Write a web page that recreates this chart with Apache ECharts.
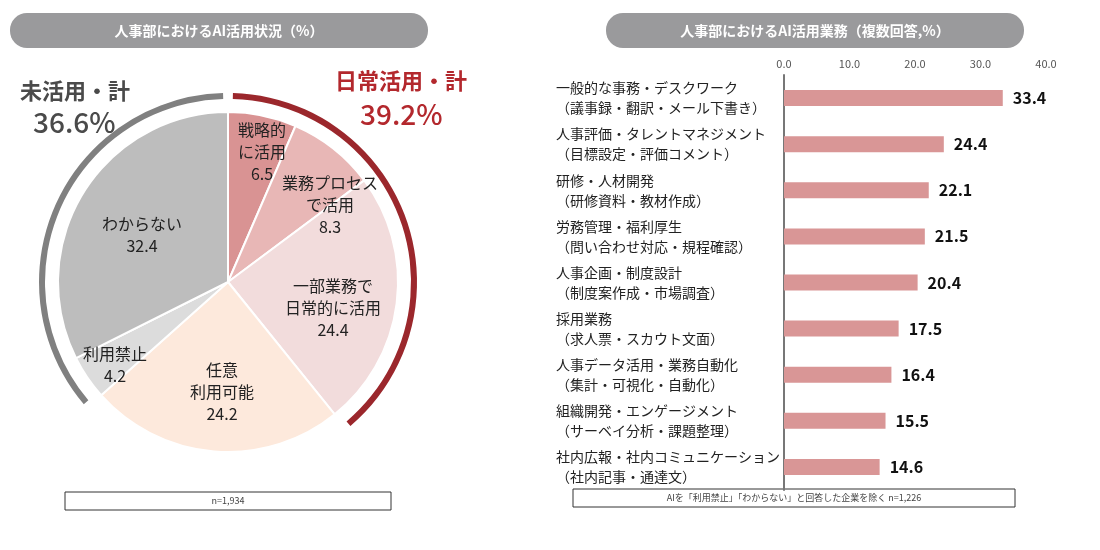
<!DOCTYPE html>
<html><head><meta charset="utf-8">
<script src="https://cdn.jsdelivr.net/npm/echarts@6/dist/echarts.min.js"></script>
<style>body{margin:0;background:#fff}#c{width:1100px;height:550px}</style>
</head><body><div id="c"></div>
<script>
var pieNames = ['戦略的\nに活用', '業務プロセス\nで活用', '一部業務で\n日常的に活用', '任意\n利用可能', '利用禁止', 'わからない'];
var pieValues = [6.5, 8.3, 24.4, 24.2, 4.2, 32.4];
var pieColors = ['#d99393', '#e8b7b6', '#f2dcdc', '#fde9dc', '#dcdcdc', '#bdbdbd'];
var ringValues = [39.2, 24.2, 36.6];
var barNames = ['一般的な事務・デスクワーク', '人事評価・タレントマネジメント', '研修・人材開発', '労務管理・福利厚生', '人事企画・制度設計', '採用業務', '人事データ活用・業務自動化', '組織開発・エンゲージメント', '社内広報・社内コミュニケーション'];
var barSubs = ['（議事録・翻訳・メール下書き）', '（目標設定・評価コメント）', '（研修資料・教材作成）', '（問い合わせ対応・規程確認）', '（制度案作成・市場調査）', '（求人票・スカウト文面）', '（集計・可視化・自動化）', '（サーベイ分析・課題整理）', '（社内記事・通達文）'];
var barValues = [33.4, 24.4, 22.1, 21.5, 20.4, 17.5, 16.4, 15.5, 14.6];
// label anchor points for the pie slices
var pieLabelPos = [[262, 152], [330, 205], [333, 308], [222, 392], [115, 365], [142, 235]];

var font = '"Noto Sans CJK JP", sans-serif';
var chart = echarts.init(document.getElementById('c'));
var cats = barNames.map(function (n, i) { return n + '\n' + barSubs[i]; });

chart.setOption({
  textStyle: { fontFamily: font },
  graphic: [
    { type: 'rect', shape: { x: 10, y: 13, width: 418, height: 35, r: 17 }, style: { fill: '#9a9a9c' } },
    { type: 'text', x: 219, y: 31, style: { text: '人事部におけるAI活用状況（%）', fill: '#fff', font: 'bold 14px ' + font, align: 'center', verticalAlign: 'middle' } },
    { type: 'rect', shape: { x: 606, y: 13, width: 418, height: 35, r: 17 }, style: { fill: '#9a9a9c' } },
    { type: 'text', x: 815, y: 31, style: { text: '人事部におけるAI活用業務（複数回答,%）', fill: '#fff', font: 'bold 14px ' + font, align: 'center', verticalAlign: 'middle' } },
    { type: 'text', x: 20, y: 80, style: { text: '未活用・計', fill: '#4a4a4a', font: 'bold 22px ' + font } },
    { type: 'text', x: 33, y: 108, style: { text: '36.6%', fill: '#4a4a4a', font: '500 28px ' + font } },
    { type: 'text', x: 335, y: 70, style: { text: '日常活用・計', fill: '#b3282d', font: 'bold 22px ' + font } },
    { type: 'text', x: 360, y: 100, style: { text: '39.2%', fill: '#b3282d', font: '500 28px ' + font } },
    { type: 'rect', shape: { x: 65, y: 492, width: 326, height: 18 }, style: { fill: '#fff', stroke: '#333', lineWidth: 1 } },
    { type: 'text', x: 228, y: 501, style: { text: 'n=1,934', fill: '#444', font: '9px ' + font, align: 'center', verticalAlign: 'middle' } },
    { type: 'rect', shape: { x: 573, y: 489, width: 442, height: 18 }, style: { fill: '#fff', stroke: '#333', lineWidth: 1 } },
    { type: 'text', x: 794, y: 498, style: { text: 'AIを「利用禁止」「わからない」と回答した企業を除く n=1,226', fill: '#444', font: '9px ' + font, align: 'center', verticalAlign: 'middle' } }
  ],
  grid: { left: 784, right: 54, top: 75, bottom: 60 },
  xAxis: {
    type: 'value', position: 'top', min: 0, max: 40, interval: 10,
    axisLabel: { formatter: function (v) { return v.toFixed(1); }, color: '#555', fontSize: 11, margin: 6 },
    splitLine: { show: false }, axisLine: { show: false }, axisTick: { show: false }
  },
  yAxis: {
    type: 'category', inverse: true, data: cats,
    axisLine: { lineStyle: { color: '#777', width: 2 } }, axisTick: { show: false },
    axisLabel: { align: 'left', margin: 228, color: '#222', fontSize: 14, lineHeight: 20 }
  },
  series: [
    {
      type: 'bar', data: barValues, barWidth: 16, itemStyle: { color: '#d99696' },
      label: { show: true, position: 'right', distance: 10, color: '#111', fontSize: 16, fontWeight: 'bold', formatter: function (p) { return p.value.toFixed(1); } }
    },
    {
      type: 'pie', center: [228, 282], radius: [0, 170], startAngle: 90, clockwise: true,
      data: pieValues.map(function (v, i) { return { value: v, name: pieNames[i], itemStyle: { color: pieColors[i] } }; }),
      itemStyle: { borderColor: '#fff', borderWidth: 2 },
      label: { show: true, position: 'inside', color: '#222', fontSize: 16, lineHeight: 22, align: 'center', verticalAlign: 'middle',
        formatter: function (p) { return p.name + '\n' + p.value.toFixed(1); } },
      labelLayout: function (p) { var q = pieLabelPos[p.dataIndex]; return { x: q[0], y: q[1], hideOverlap: false }; },
      labelLine: { show: false }, emphasis: { disabled: true }, silent: true
    },
    {
      type: 'pie', center: [228, 282], radius: [183, 189], startAngle: 90, clockwise: true, padAngle: 3,
      data: ringValues.map(function (v, i) { return { value: v, itemStyle: { color: ['#9b272c', 'transparent', '#808080'][i] } }; }),
      label: { show: false }, labelLine: { show: false }, silent: true
    }
  ]
});
</script></body></html>
